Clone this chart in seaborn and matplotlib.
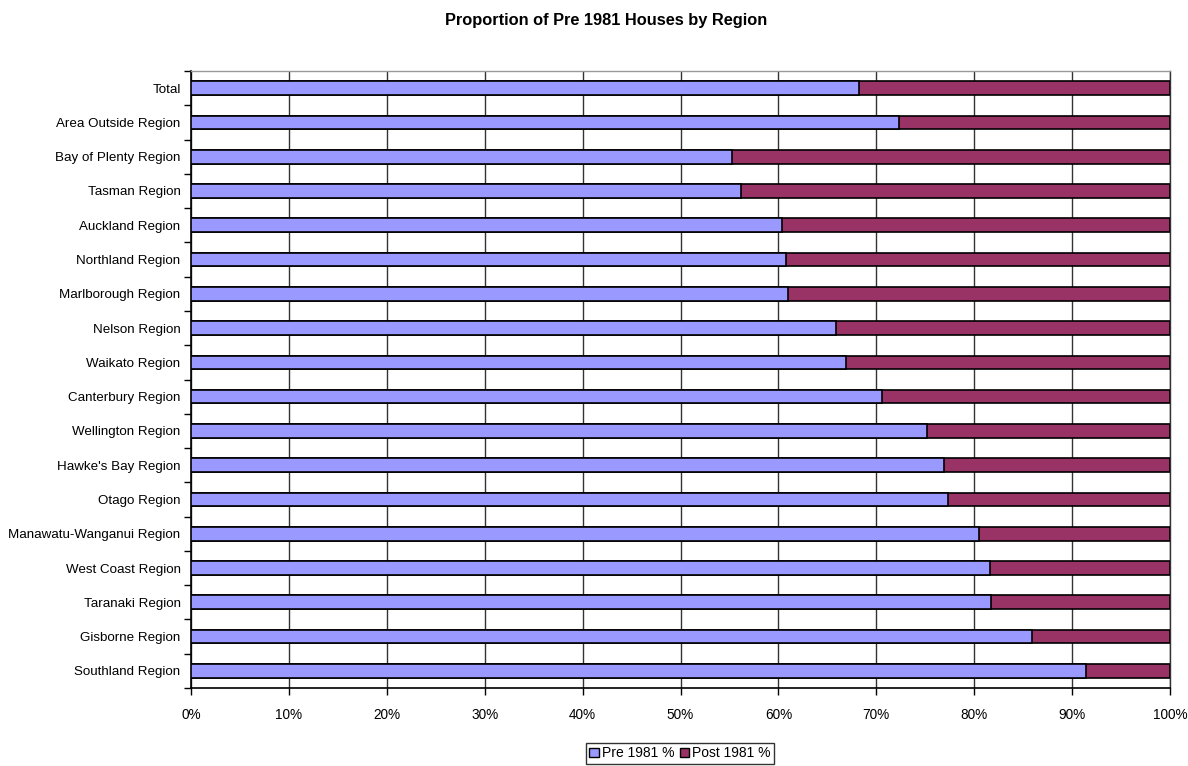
import matplotlib
matplotlib.use("Agg")
import matplotlib.pyplot as plt
from matplotlib.ticker import FixedLocator, PercentFormatter
from matplotlib import font_manager
import seaborn as sns
import pandas as pd

regions = [
    "Total", "Area Outside Region", "Bay of Plenty Region", "Tasman Region",
    "Auckland Region", "Northland Region", "Marlborough Region", "Nelson Region",
    "Waikato Region", "Canterbury Region", "Wellington Region",
    "Hawke's Bay Region", "Otago Region", "Manawatu-Wanganui Region",
    "West Coast Region", "Taranaki Region", "Gisborne Region", "Southland Region",
]
pre_1981 = [68.2, 72.3, 55.3, 56.2, 60.4, 60.8, 61.0, 65.9, 66.9, 70.6,
            75.2, 76.9, 77.3, 80.5, 81.6, 81.7, 85.9, 91.4]
post_1981 = [31.8, 27.7, 44.7, 43.8, 39.6, 39.2, 39.0, 34.1, 33.1, 29.4,
             24.8, 23.1, 22.7, 19.5, 18.4, 18.3, 14.1, 8.6]
x_ticks = [0, 10, 20, 30, 40, 50, 60, 70, 80, 90, 100]

PRE_COLOR = "#9999FF"
POST_COLOR = "#993366"

sns.set_theme(style="white")
installed = {f.name for f in font_manager.fontManager.ttflist}
family = [f for f in ["Liberation Sans Narrow", "Liberation Sans", "DejaVu Sans"] if f in installed]
plt.rcParams["font.family"] = family
for key in ["text.color", "axes.labelcolor", "xtick.color", "ytick.color"]:
    plt.rcParams[key] = "black"

df = pd.DataFrame({"region": regions, "pre": pre_1981, "post": post_1981})
df["stack"] = df["pre"] + df["post"]

fig = plt.figure(figsize=(11.88, 7.66), dpi=100)
ax = fig.add_axes([191 / 1188, 1 - 688 / 766, (1170 - 191) / 1188, (688 - 71) / 766])

# stacked bars: full stack in post colour, pre share drawn over it
sns.barplot(data=df, y="region", x="stack", orient="h", color=POST_COLOR,
            saturation=1, width=0.4, edgecolor="black", linewidth=1.2, ax=ax, zorder=3)
sns.barplot(data=df, y="region", x="pre", orient="h", color=PRE_COLOR,
            saturation=1, width=0.4, edgecolor="black", linewidth=1.2, ax=ax, zorder=4)

ax.set_xlim(0, 100)
ax.set_ylim(len(regions) - 0.5, -0.5)
ax.xaxis.set_major_locator(FixedLocator(x_ticks))
ax.xaxis.set_major_formatter(PercentFormatter(decimals=0))
ax.grid(axis="x", color="#333333", linewidth=1.0, zorder=0)
ax.set_axisbelow(True)
ax.set_xlabel("")
ax.set_ylabel("")

ax.tick_params(axis="x", which="major", direction="out", length=5, width=1,
               color="black", labelsize=9.8, pad=9.5, bottom=True)
ax.tick_params(axis="y", which="major", length=0, labelsize=9.6, pad=7.5)
ax.yaxis.set_minor_locator(FixedLocator([i + 0.5 for i in range(-1, len(regions))]))
ax.tick_params(axis="y", which="minor", direction="out", length=5, width=1,
               color="black", left=True)

for side in ["left", "bottom"]:
    ax.spines[side].set_color("black")
    ax.spines[side].set_linewidth(1.2)
ax.spines["top"].set_color("#999999")
ax.spines["top"].set_linewidth(1.0)
ax.spines["right"].set_color("#333333")
ax.spines["right"].set_linewidth(1.0)

fig.text(606 / 1188, 1 - 20 / 766, "Proportion of Pre 1981 Houses by Region",
         ha="center", va="center", fontsize=11.8, fontweight="bold")

handles = [
    plt.Rectangle((0, 0), 1, 1, facecolor=PRE_COLOR, edgecolor="black", linewidth=1),
    plt.Rectangle((0, 0), 1, 1, facecolor=POST_COLOR, edgecolor="black", linewidth=1),
]
leg = fig.legend(handles, ["Pre 1981 %", "Post 1981 %"], loc="upper center",
                 bbox_to_anchor=(680 / 1188, 1 - 743 / 766), ncol=2, fontsize=10,
                 frameon=True, fancybox=False, handlelength=0.7, handleheight=0.7,
                 handletextpad=0.2, columnspacing=0.4, borderpad=0.25,
                 borderaxespad=0)
leg.get_frame().set_edgecolor("black")
leg.get_frame().set_linewidth(1.0)

fig.savefig("out.png", dpi=100, facecolor="white")
